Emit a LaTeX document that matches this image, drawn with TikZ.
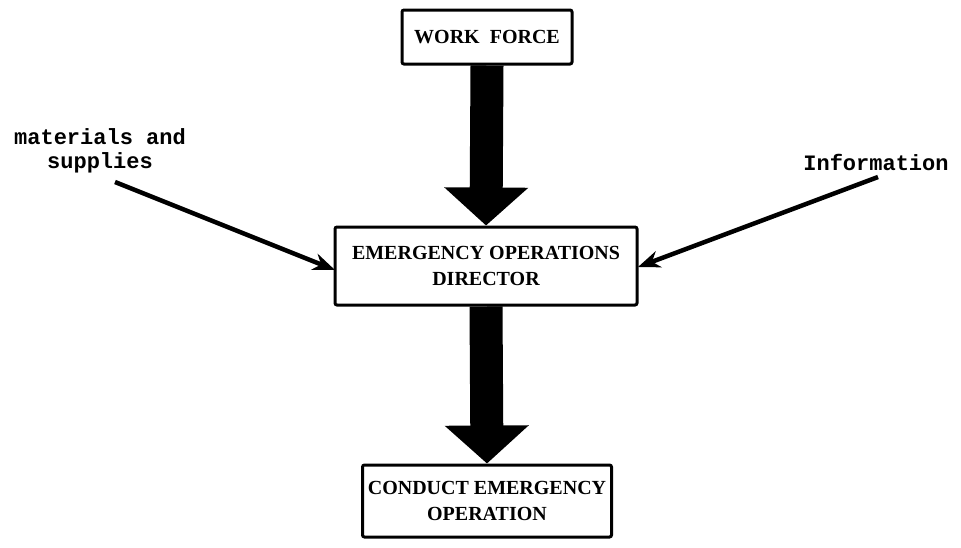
\documentclass[tikz,border=0pt]{standalone}
\usepackage{fontspec}
\setmainfont{Liberation Serif}
\newfontfamily\labelfont{Liberation Mono}
\usetikzlibrary{arrows.meta}
\begin{document}
\begin{tikzpicture}[x=1pt,y=-1pt,
  box/.style={draw,line width=3pt,rounded corners=2pt,fill=white,align=center,
    inner sep=0pt,font=\fontsize{20}{26}\selectfont\bfseries},
  sidelabel/.style={align=center,inner sep=0pt,
    font=\labelfont\fontsize{22}{24}\selectfont\bfseries},
  bigflow/.style={line width=33pt,-{Triangle[width=82pt,length=38pt]}},
  inflow/.style={line width=4.5pt,-{Stealth[length=22pt,width=17pt]}}]
\useasboundingbox (0,0) rectangle (961,547);

% boxes of the command chain
\node[box,minimum width=170pt,minimum height=54pt] (work) at (487,37) {WORK\ \ FORCE};
\node[box,minimum width=302pt,minimum height=78pt] (eod) at (486,266)
  {EMERGENCY OPERATIONS\\DIRECTOR};
\node[box,minimum width=249pt,minimum height=72pt] (ceo) at (487,501)
  {CONDUCT EMERGENCY\\OPERATION};

% side inputs
\node[sidelabel] (mat) at (100,151) {materials and\\supplies};
\node[sidelabel] (info) at (876,162) {Information};

\coordinate (matstart) at (115,182);
\coordinate (infostart) at (878,177);
\coordinate (eodleft) at (335,270);
\coordinate (eodright) at (638,267);

\draw[bigflow] (work.south) -- (eod.north);
\draw[bigflow] (eod.south) -- (ceo.north);
\draw[inflow] (matstart) -- (eodleft);
\draw[inflow] (infostart) -- (eodright);
\end{tikzpicture}
\end{document}
